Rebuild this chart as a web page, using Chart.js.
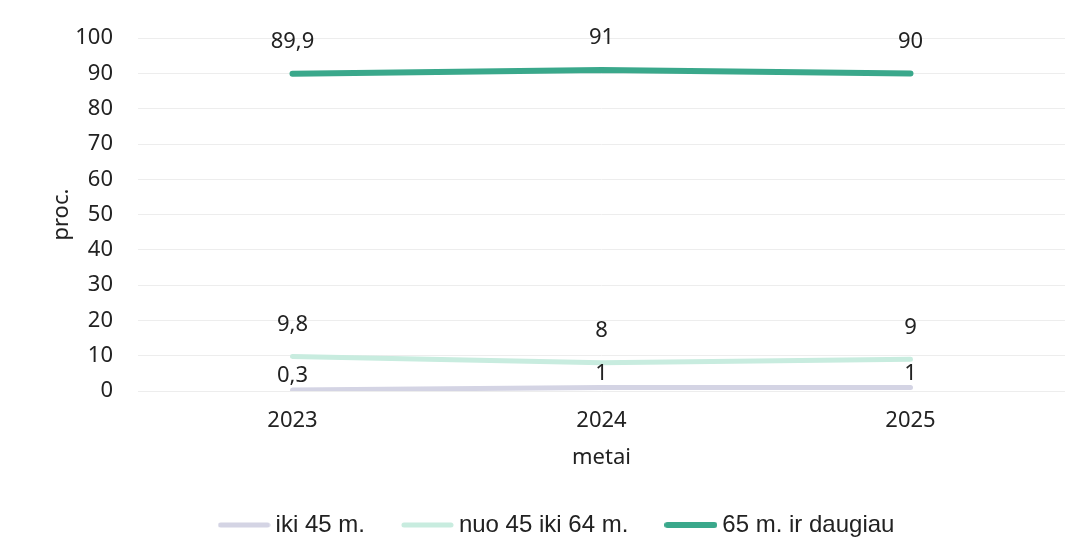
<!DOCTYPE html>
<html>
<head>
<meta charset="utf-8">
<script src="https://cdn.jsdelivr.net/npm/chart.js@4"></script>
<style>
html,body{margin:0;padding:0;background:#fff;}
canvas{display:block;}
</style>
</head>
<body>
<canvas id="c" width="1089" height="555"></canvas>
<script>
const years = ['2023', '2024', '2025'];
const under45 = [0.3, 1, 1];
const from45to64 = [9.8, 8, 9];
const over65 = [89.9, 91, 90];
const seriesNames = ['iki 45 m.', 'nuo 45 iki 64 m.', '65 m. ir daugiau'];
const yTicks = [0, 10, 20, 30, 40, 50, 60, 70, 80, 90, 100];

const colors = ['#d4d4e4', '#c8ecdf', '#3aa88b'];
const widths = [5, 5, 6];

function legendLine(color, w) {
  const c = document.createElement('canvas');
  c.width = 53; c.height = 8;
  const x = c.getContext('2d');
  x.strokeStyle = color;
  x.lineWidth = w;
  x.lineCap = 'round';
  x.beginPath();
  x.moveTo(3, 4);
  x.lineTo(50, 4);
  x.stroke();
  return c;
}

const tickFont = {family: '"Noto Sans", sans-serif', size: 22};
const labelPlugin = {
  id: 'valueLabels',
  beforeLayout(chart) {
    const lg = chart.legend;
    if (lg && !lg._patched) {
      const orig = lg.fit.bind(lg);
      lg.fit = function () { orig(); this.height = 64; };
      lg._patched = true;
    }
  },
  afterLayout(chart) {
    const lg = chart.legend;
    if (lg) {
      lg.left += 7; lg.right += 7;
      lg.top -= 21;
      lg.bottom = chart.height;
      lg.height = lg.bottom - lg.top;
    }
  },
  afterDatasetsDraw(chart) {
    const ctx = chart.ctx;
    ctx.save();
    ctx.font = '22px "Noto Sans", sans-serif';
    ctx.fillStyle = '#222';
    ctx.textAlign = 'center';
    ctx.textBaseline = 'middle';
    chart.data.datasets.forEach((ds, i) => {
      const meta = chart.getDatasetMeta(i);
      const off = ds.labelOffset;
      meta.data.forEach((pt, j) => {
        const txt = String(ds.data[j]).replace('.', ',');
        ctx.fillText(txt, pt.x, pt.y - off);
      });
    });
    ctx.restore();
  }
};

const series = [under45, from45to64, over65];
const offsets = [14, 32, 32];

new Chart(document.getElementById('c'), {
  type: 'line',
  data: {
    labels: years,
    datasets: series.map((d, i) => ({
      label: seriesNames[i],
      data: d,
      borderColor: colors[i],
      backgroundColor: colors[i],
      borderWidth: widths[i],
      pointRadius: 0,
      pointStyle: legendLine(colors[i], widths[i]),
      borderCapStyle: 'round',
      labelOffset: offsets[i]
    }))
  },
  options: {
    responsive: false,
    animation: false,
    layout: {padding: {top: 38, right: 24, left: 40, bottom: 0}},
    plugins: {
      legend: {
        position: 'bottom',
        labels: {
          usePointStyle: true,
          pointStyleWidth: 39,
          boxHeight: 6,
          padding: 43,
          color: '#222',
          font: {family: '"Liberation Sans", Arial, sans-serif', size: 24}
        }
      },
      tooltip: {enabled: false}
    },
    scales: {
      x: {
        offset: true,
        grid: {display: false, drawTicks: false},
        border: {display: false},
        ticks: {padding: 17, color: '#222', font: tickFont},
        title: {display: true, text: 'metai', color: '#222', font: tickFont, padding: {top: 0, bottom: 20}},
        afterFit(s) { s.height = 100; }
      },
      y: {
        min: 0, max: 100,
        afterBuildTicks(s) { s.ticks = yTicks.map(v => ({value: v})); },
        grid: {color: '#ededed', lineWidth: 1, drawTicks: false},
        border: {display: false},
        ticks: {padding: 25, color: '#222', font: tickFont},
        title: {display: true, text: 'proc.', color: '#222', font: tickFont, padding: {top: 9, bottom: 0}},
        afterFit(s) { s.width = 98; }
      }
    }
  },
  plugins: [labelPlugin]
});
</script>
</body>
</html>
